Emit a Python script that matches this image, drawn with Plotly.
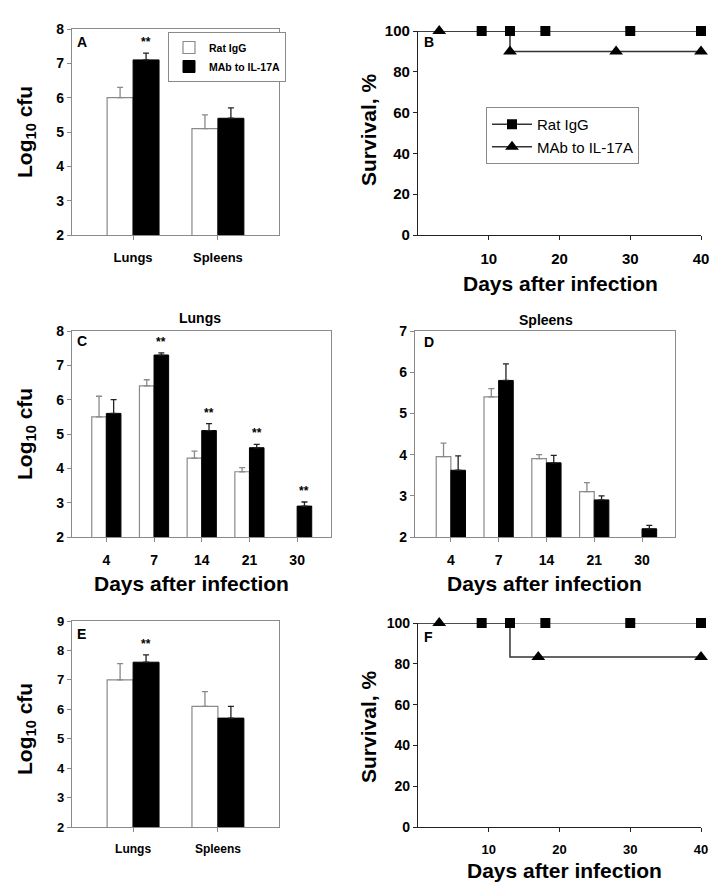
import plotly.graph_objects as go

# The page body adds an 8px margin, so the figure is drawn 8px in from the
# top-left corner; lay out in target-pixel space and convert.
OFF = 8
W, H = 722 - OFF, 891 - OFF
FONT = "Liberation Sans, Arial, sans-serif"
GRAY = "#8a8a8a"

# ---------------- data ----------------
organs = ["Lungs", "Spleens"]
series_names = ["Rat IgG", "MAb to IL-17A"]

# Panel A
a_igg = [6.0, 5.1]
a_igg_err = [0.3, 0.4]
a_mab = [7.1, 5.4]
a_mab_err = [0.2, 0.3]
a_sig = ["**", ""]

# Panel B (survival)
b_igg_step_days = [0, 40]
b_igg_step_surv = [100, 100]
b_igg_mark_days = [9, 13, 18, 30, 40]
b_igg_mark_surv = [100, 100, 100, 100, 100]
b_mab_step_days = [0, 13, 40]
b_mab_step_surv = [100, 90, 90]
b_mab_mark_days = [3, 13, 28, 40]
b_mab_mark_surv = [100, 90, 90, 90]

# Panel C (lungs, time course)
days = ["4", "7", "14", "21", "30"]
c_igg = [5.5, 6.4, 4.3, 3.9, None]
c_igg_err = [0.6, 0.18, 0.2, 0.12, None]
c_mab = [5.6, 7.3, 5.1, 4.6, 2.9]
c_mab_err = [0.4, 0.06, 0.2, 0.1, 0.12]
c_sig = ["", "**", "**", "**", "**"]

# Panel D (spleens, time course)
d_igg = [3.95, 5.4, 3.9, 3.1, None]
d_igg_err = [0.33, 0.2, 0.1, 0.22, None]
d_mab = [3.62, 5.8, 3.8, 2.9, 2.2]
d_mab_err = [0.35, 0.4, 0.18, 0.1, 0.08]
d_sig = ["", "", "", "", ""]

# Panel E
e_igg = [7.0, 6.1]
e_igg_err = [0.55, 0.5]
e_mab = [7.6, 5.7]
e_mab_err = [0.25, 0.4]
e_sig = ["**", ""]

# Panel F (survival)
f_igg_step_days = [0, 40]
f_igg_step_surv = [100, 100]
f_igg_mark_days = [9, 13, 18, 30, 40]
f_igg_mark_surv = [100, 100, 100, 100, 100]
f_mab_step_days = [0, 13, 40]
f_mab_step_surv = [100, 83.3, 83.3]
f_mab_mark_days = [3, 17, 40]
f_mab_mark_surv = [100, 83.3, 83.3]

# ---------------- helpers ----------------
def px(x):
    return (x - OFF) / W

def py(y):
    return 1 - (y - OFF) / H

BARGAP = 0.388
BLACK_OFFSET = (1 - BARGAP) / 4

fig = go.Figure()
annotations = []


def bar_panel(idx, cats, igg, igg_err, mab, mab_err, sig, showlegend):
    xa = "x" if idx == 1 else f"x{idx}"
    ya = "y" if idx == 1 else f"y{idx}"
    fig.add_trace(go.Bar(
        x=cats, y=igg, name=series_names[0], xaxis=xa, yaxis=ya,
        marker=dict(color="white", line=dict(color=GRAY, width=1.2)),
        error_y=dict(type="data", symmetric=False, array=igg_err,
                     arrayminus=[0] * len(cats), color=GRAY, thickness=1.3, width=3),
        showlegend=showlegend, legend="legend", legendgroup="bars",
    ))
    fig.add_trace(go.Bar(
        x=cats, y=mab, name=series_names[1], xaxis=xa, yaxis=ya,
        marker=dict(color="black", line=dict(color="black", width=1)),
        error_y=dict(type="data", symmetric=False, array=mab_err,
                     arrayminus=[0] * len(cats), color="#222", thickness=1.3, width=3),
        showlegend=showlegend, legend="legend", legendgroup="bars",
    ))
    for i, s in enumerate(sig):
        if s:
            annotations.append(dict(
                x=i + BLACK_OFFSET, y=mab[i] + mab_err[i], xref=xa, yref=ya,
                text="<b>" + s + "</b>", showarrow=False, yanchor="bottom",
                yshift=2, font=dict(family=FONT, size=12, color="black"),
            ))


def surv_panel(idx, s1d, s1s, m1d, m1s, s2d, s2s, m2d, m2s, line1, line2):
    xa = f"x{idx}"
    ya = f"y{idx}"
    fig.add_trace(go.Scatter(x=s1d, y=s1s, mode="lines", line_shape="hv",
                             line=dict(color=line1, width=1.5), xaxis=xa, yaxis=ya,
                             showlegend=False, cliponaxis=False))
    fig.add_trace(go.Scatter(x=s2d, y=s2s, mode="lines", line_shape="hv",
                             line=dict(color=line2, width=1.5), xaxis=xa, yaxis=ya,
                             showlegend=False, cliponaxis=False))
    fig.add_trace(go.Scatter(x=m1d, y=m1s, mode="markers",
                             marker=dict(symbol="square", size=10, color="black"),
                             xaxis=xa, yaxis=ya, showlegend=False, cliponaxis=False))
    fig.add_trace(go.Scatter(x=m2d, y=m2s, mode="markers",
                             marker=dict(symbol="triangle-up", size=12, color="black"),
                             xaxis=xa, yaxis=ya, showlegend=False, cliponaxis=False))


bar_panel(1, organs, a_igg, a_igg_err, a_mab, a_mab_err, a_sig, True)
surv_panel(2, b_igg_step_days, b_igg_step_surv, b_igg_mark_days, b_igg_mark_surv,
           b_mab_step_days, b_mab_step_surv, b_mab_mark_days, b_mab_mark_surv,
           "#333", "#333")
# legend entries for panel B
fig.add_trace(go.Scatter(x=[None], y=[None], mode="lines+markers", name=series_names[0],
                         line=dict(color="#333", width=1.5),
                         marker=dict(symbol="square", size=10, color="black"),
                         xaxis="x2", yaxis="y2", legend="legend2"))
fig.add_trace(go.Scatter(x=[None], y=[None], mode="lines+markers", name=series_names[1],
                         line=dict(color="#333", width=1.5),
                         marker=dict(symbol="triangle-up", size=12, color="black"),
                         xaxis="x2", yaxis="y2", legend="legend2"))
bar_panel(3, days, c_igg, c_igg_err, c_mab, c_mab_err, c_sig, False)
bar_panel(4, days, d_igg, d_igg_err, d_mab, d_mab_err, d_sig, False)
bar_panel(5, organs, e_igg, e_igg_err, e_mab, e_mab_err, e_sig, False)
surv_panel(6, f_igg_step_days, f_igg_step_surv, f_igg_mark_days, f_igg_mark_surv,
           f_mab_step_days, f_mab_step_surv, f_mab_mark_days, f_mab_mark_surv,
           "#777", "#333")

# ---------------- axes ----------------
def bold_font(size):
    return dict(family=FONT, size=size, color="black", weight="bold")


def bar_axes(idx, xl, xr, yt, yb, xrange, yrange, xtick, ytick):
    xk = "xaxis" if idx == 1 else f"xaxis{idx}"
    yk = "yaxis" if idx == 1 else f"yaxis{idx}"
    ya = "y" if idx == 1 else f"y{idx}"
    xa = "x" if idx == 1 else f"x{idx}"
    fig.update_layout(**{
        xk: dict(domain=[px(xl), px(xr)], anchor=ya, type="category", range=xrange,
                 showline=True, mirror=True, linecolor=GRAY, linewidth=1.2,
                 ticks="outside", ticklen=4, tickcolor=GRAY, showgrid=False,
                 zeroline=False, tickfont=bold_font(xtick), ticklabelstandoff=6,
                 automargin=False),
        yk: dict(domain=[py(yb), py(yt)], anchor=xa, range=yrange, dtick=1,
                 showline=True, mirror=True, linecolor=GRAY, linewidth=1.2,
                 ticks="outside", ticklen=4, tickcolor=GRAY, showgrid=False,
                 zeroline=False, tickfont=bold_font(ytick), automargin=False),
    })


def surv_axes(idx, xl, xr, yt, yb, xtick, ytick):
    fig.update_layout(**{
        f"xaxis{idx}": dict(domain=[px(xl), px(xr)], anchor=f"y{idx}", range=[0, 40],
                            tickvals=[10, 20, 30, 40], showline=True, linecolor="#222",
                            linewidth=1.2, ticks="outside", ticklen=4, tickcolor="#222",
                            showgrid=False, zeroline=False, tickfont=bold_font(xtick),
                            ticklabelstandoff=6, automargin=False),
        f"yaxis{idx}": dict(domain=[py(yb), py(yt)], anchor=f"x{idx}", range=[0, 100],
                            tickvals=[0, 20, 40, 60, 80, 100], showline=True,
                            linecolor="#222", linewidth=1.2, ticks="outside", ticklen=4,
                            tickcolor="#222", showgrid=False, zeroline=False,
                            tickfont=bold_font(ytick), automargin=False),
    })


bar_axes(1, 72, 279, 29, 235, [-0.72, 1.72], [2, 8], 13, 14)
surv_axes(2, 418, 701, 31, 235, 15, 15)
bar_axes(3, 72, 331, 331, 537, [-0.72, 4.71], [2, 8], 14, 14)
bar_axes(4, 415, 675, 331, 537, [-0.75, 4.69], [2, 7], 14, 14)
bar_axes(5, 72, 279, 621, 827, [-0.72, 1.72], [2, 9], 12, 13)
surv_axes(6, 418, 701, 623, 827, 13, 14)

# ---------------- text ----------------
def text_at(x, y, text, size, angle=0, bold=True, xanchor="center", yanchor="middle"):
    annotations.append(dict(
        x=px(x), y=py(y), xref="paper", yref="paper", text=text, showarrow=False,
        textangle=angle, xanchor=xanchor, yanchor=yanchor,
        font=dict(family=FONT, size=size, color="black", weight="bold" if bold else "normal"),
    ))

ylog = "Log<sub>10</sub> cfu"
text_at(26, 132, ylog, 21, angle=-90)
text_at(26, 434, ylog, 21, angle=-90)
text_at(26, 729, ylog, 21, angle=-90)
text_at(368, 130, "Survival, %", 21, angle=-90)
text_at(368, 727, "Survival, %", 21, angle=-90)
text_at(560, 283, "Days after infection", 21)
text_at(192, 583, "Days after infection", 21)
text_at(544, 583, "Days after infection", 21)
text_at(564, 870, "Days after infection", 21)
text_at(200, 318, "Lungs", 14)
text_at(546, 320, "Spleens", 14)

for lx, ly, lt in [(75, 42, "A"), (422, 42, "B"), (75, 341, "C"), (422, 342, "D"),
                   (75, 634, "E"), (422, 637, "F")]:
    text_at(lx, ly, lt, 14, xanchor="left")

fig.update_layout(
    width=W, height=H, margin=dict(l=0, r=0, t=0, b=0, pad=0, autoexpand=False),
    paper_bgcolor="white", plot_bgcolor="white",
    barmode="group", bargap=BARGAP, bargroupgap=0,
    annotations=annotations,
    font=dict(family=FONT, color="black"),
    legend=dict(x=px(168), y=py(32), xanchor="left", yanchor="top",
                bgcolor="white", bordercolor=GRAY, borderwidth=1,
                font=dict(family=FONT, size=10.5, color="black", weight="bold"),
                tracegroupgap=0, itemwidth=30),
    legend2=dict(x=px(486), y=py(107), xanchor="left", yanchor="top",
                 bgcolor="white", bordercolor=GRAY, borderwidth=1,
                 font=dict(family=FONT, size=15, color="black"),
                 itemwidth=40),
)

fig.write_html("out.html")
